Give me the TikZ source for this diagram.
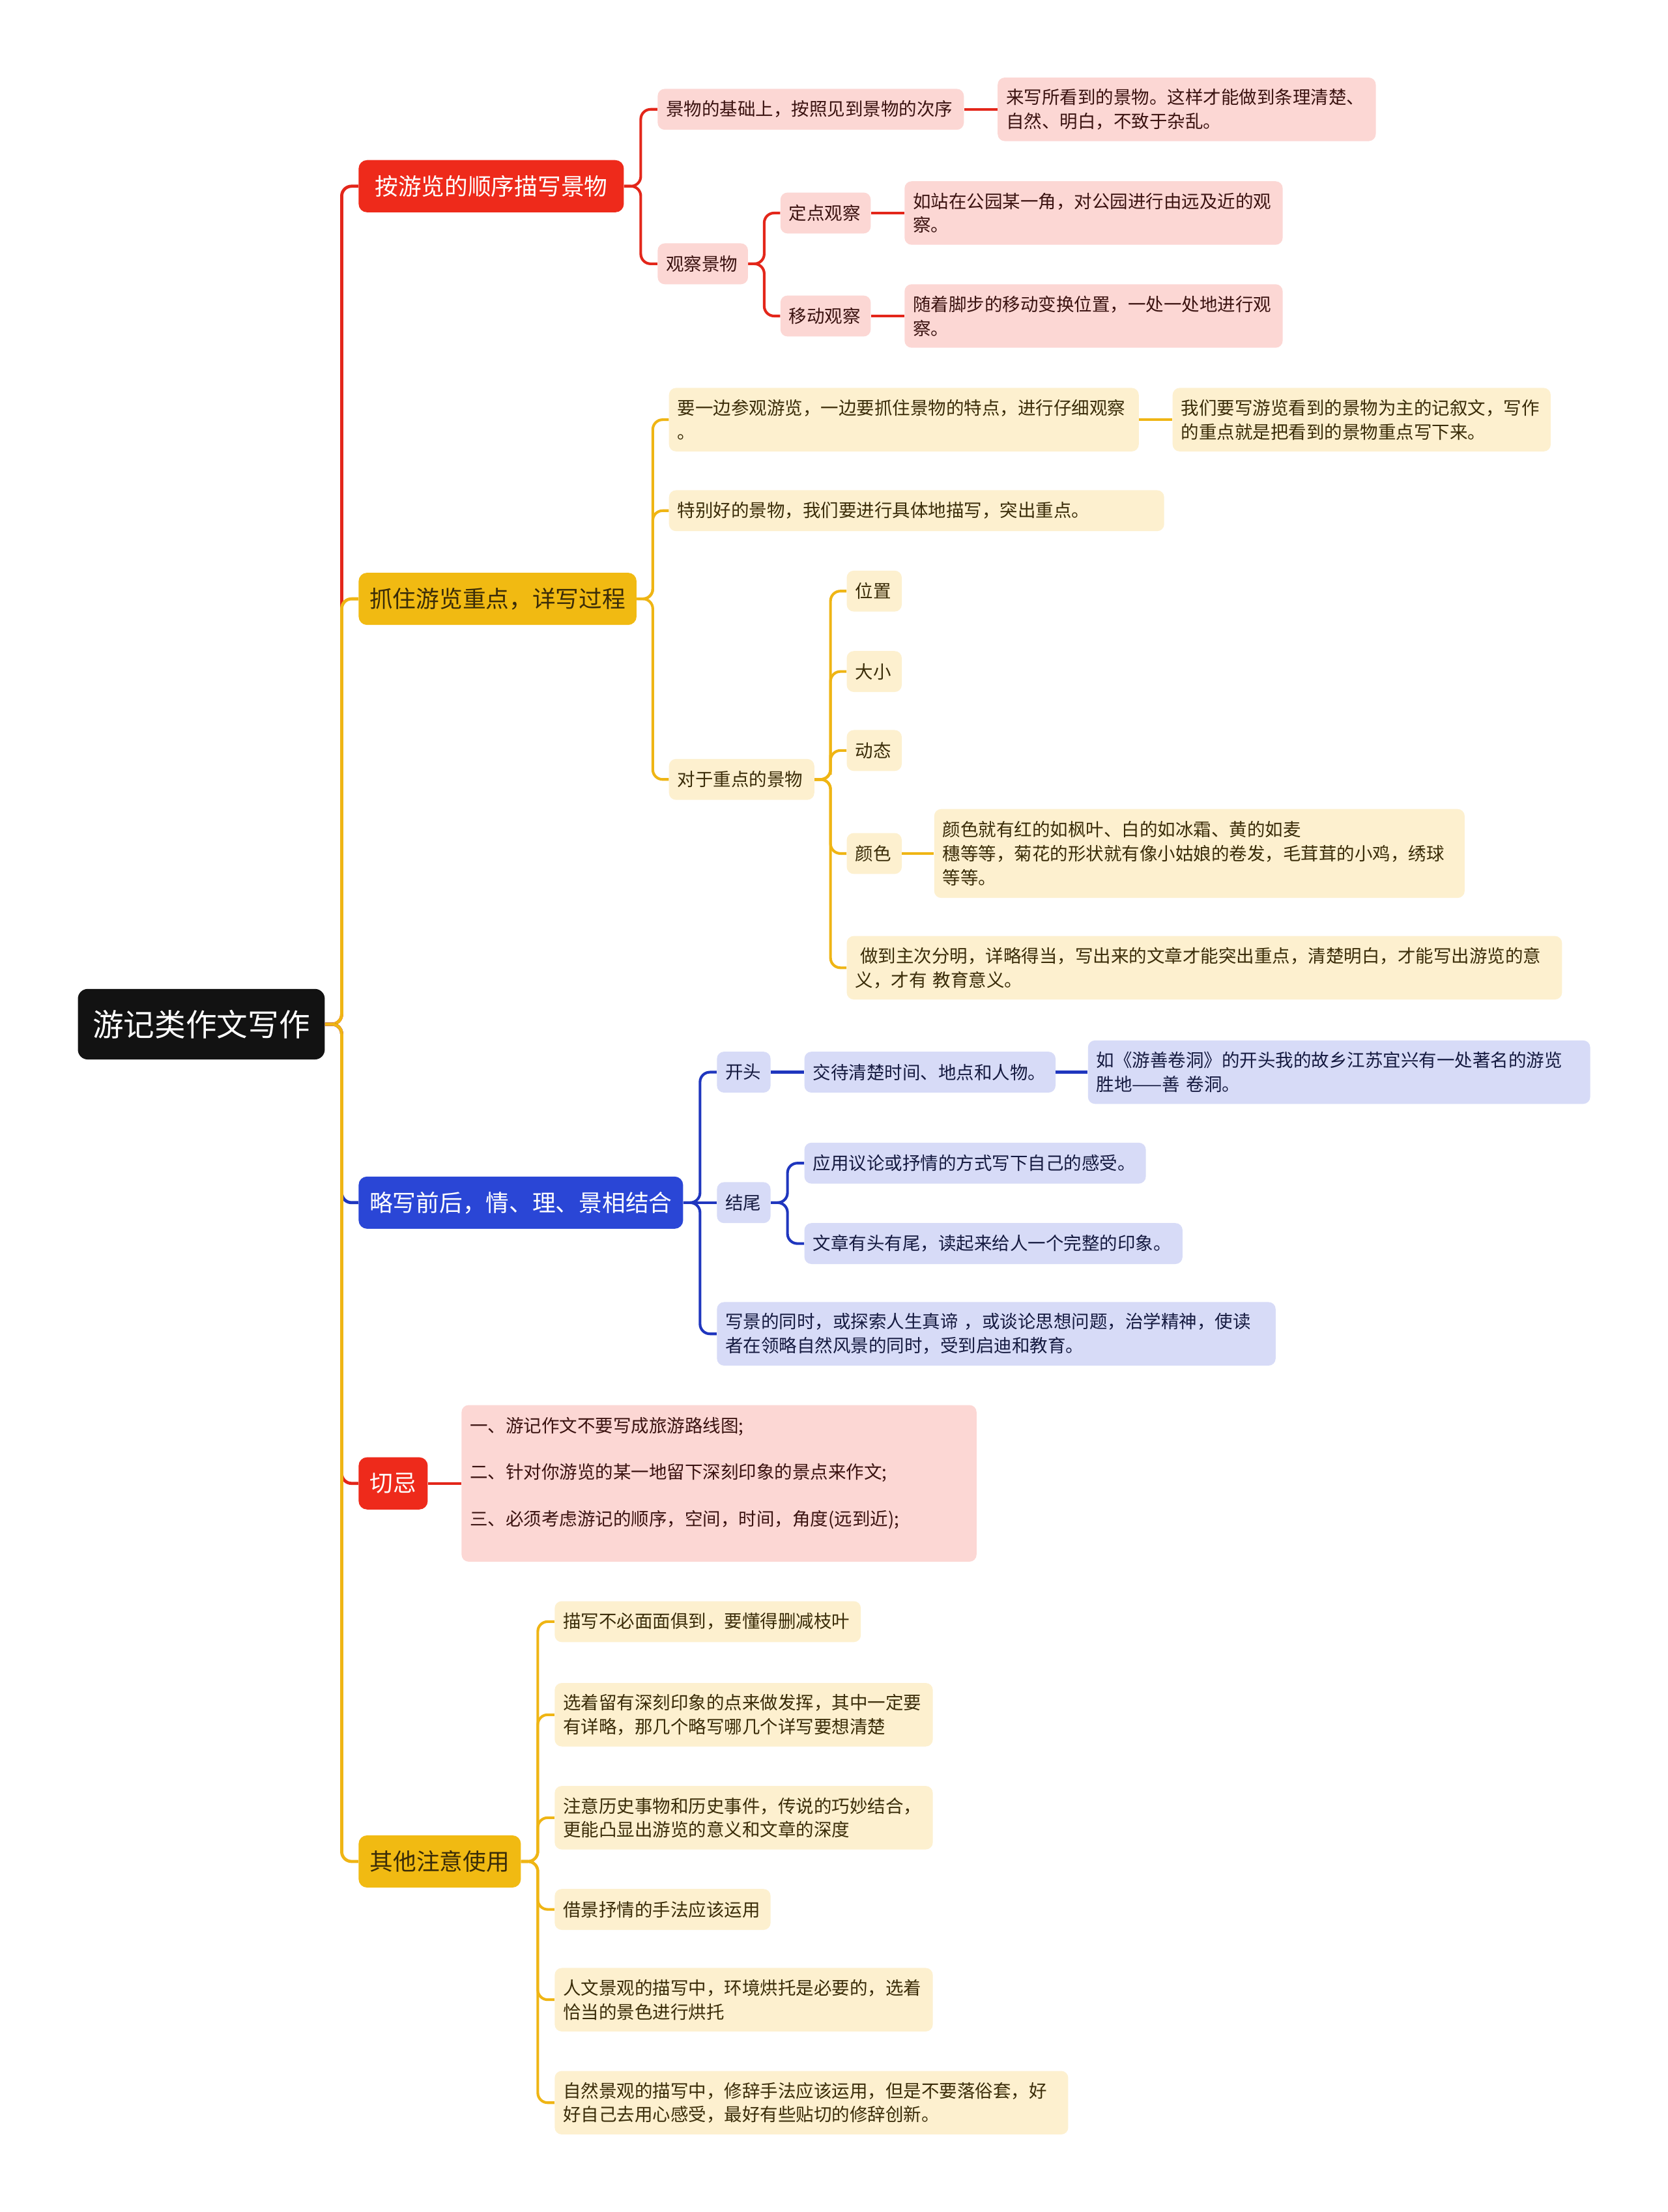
\documentclass[tikz,border=0pt]{standalone}
\usepackage{fontspec}
\setmainfont{Noto Sans CJK SC}
\usetikzlibrary{calc}
\definecolor{redF}{HTML}{EE2A1B}
\definecolor{redL}{HTML}{FCD7D4}
\definecolor{redC}{HTML}{E3261A}
\definecolor{yelF}{HTML}{F1BA12}
\definecolor{yelL}{HTML}{FDF0CF}
\definecolor{yelC}{HTML}{EFB514}
\definecolor{bluF}{HTML}{2A46D6}
\definecolor{bluL}{HTML}{D7DBF7}
\definecolor{bluC}{HTML}{1F36BE}
\definecolor{txR}{HTML}{3A1210}
\definecolor{txY}{HTML}{3A2C08}
\definecolor{txB}{HTML}{151A40}
\newcommand\mmelbow[3]{\draw[#1] (#2.east) -| ($(#2.east)!.5!(#3.west)$) |- (#3.west);}
\newcommand\mmstraight[3]{\draw[#1] (#2.east) -- (#3.west);}
\begin{document}
\begin{tikzpicture}[x=1pt,y=-1pt,
  lf/.style={rounded corners=5pt, inner xsep=6pt, inner ysep=0pt, anchor=west, align=left,
     font=\fontsize{12.7}{17}\selectfont},
  lfR/.style={lf, fill=redL, text=txR},
  lfY/.style={lf, fill=yelL, text=txY},
  lfB/.style={lf, fill=bluL, text=txB},
  wh/.style 2 args={text width=#1, minimum height=#2},
  br/.style={rounded corners=6pt, inner sep=0pt, anchor=west, minimum height=37pt,
     font=\fontsize{16.5}{20}\selectfont},
  brR/.style={br, fill=redF, text=white},
  brY/.style={br, fill=yelF, text=txY},
  brB/.style={br, fill=bluF, text=white},
  cR/.style={draw=redC, line width=1.9pt, rounded corners=7pt},
  cY/.style={draw=yelC, line width=1.9pt, rounded corners=7pt},
  cB/.style={draw=bluC, line width=1.9pt, rounded corners=7pt},
  rootbox/.style={rounded corners=7pt, inner sep=0pt, anchor=west, fill=black!93, text=white,
     minimum width=175pt, minimum height=50pt, font=\fontsize{22}{26}\selectfont}
]
\useasboundingbox[fill=white] (0,0) rectangle (1182,1568);

% root
\node[rootbox] (R) at (55,726) {游记类作文写作};

% branch 1
\node[brR, minimum width=188pt] (B1) at (254,132) {按游览的顺序描写景物};
\node[lfR, wh={205pt}{29pt}] (a1) at (466,77.5) {景物的基础上，按照见到景物的次序};
\node[lfR, wh={256pt}{45pt}] (a1x) at (707,77.5) {来写所看到的景物。这样才能做到条理清楚、\\自然、明白，不致于杂乱。};
\node[lfR, wh={52pt}{29pt}] (a2) at (466,187) {观察景物};
\node[lfR, wh={52pt}{29pt}] (a21) at (553,151) {定点观察};
\node[lfR, wh={256pt}{45pt}] (a21x) at (641,151) {如站在公园某一角，对公园进行由远及近的观\\察。};
\node[lfR, wh={52pt}{29pt}] (a22) at (553,224) {移动观察};
\node[lfR, wh={256pt}{45pt}] (a22x) at (641,224) {随着脚步的移动变换位置，一处一处地进行观\\察。};

% branch 2
\node[brY, minimum width=197pt] (B2) at (254,424.5) {抓住游览重点，详写过程};
\node[lfY, wh={321pt}{45pt}] (b1) at (474,297.5) {要一边参观游览，一边要抓住景物的特点，进行仔细观察\\。};
\node[lfY, wh={256pt}{45pt}] (b1x) at (831,297.5) {我们要写游览看到的景物为主的记叙文，写作\\的重点就是把看到的景物重点写下来。};
\node[lfY, wh={339pt}{29pt}] (b2) at (474,362) {特别好的景物，我们要进行具体地描写，突出重点。};
\node[lfY, wh={91pt}{29pt}] (b3) at (474,552.5) {对于重点的景物};
\node[lfY, wh={27pt}{29pt}] (c1) at (600,419) {位置};
\node[lfY, wh={27pt}{29pt}] (c2) at (600,476) {大小};
\node[lfY, wh={27pt}{29pt}] (c3) at (600,532) {动态};
\node[lfY, wh={27pt}{29pt}] (c4) at (600,605) {颜色};
\node[lfY, wh={364pt}{63pt}] (c4x) at (662,605) {颜色就有红的如枫叶、白的如冰霜、黄的如麦\\穗等等，菊花的形状就有像小姑娘的卷发，毛茸茸的小鸡，绣球\\等等。};
\node[lfY, wh={495pt}{45pt}] (c5) at (600,686) {\hspace*{3.5pt}做到主次分明，详略得当，写出来的文章才能突出重点，清楚明白，才能写出游览的意\\义，才有 教育意义。};

% branch 3
\node[brB, minimum width=230pt] (B3) at (254,852.5) {略写前后，情、理、景相结合};
\node[lfB, wh={26pt}{29pt}] (d1) at (508,760) {开头};
\node[lfB, wh={166pt}{29pt}] (d1x) at (570,760) {交待清楚时间、地点和人物。};
\node[lfB, wh={344pt}{45pt}] (d1xx) at (771,760) {如《游善卷洞》的开头我的故乡江苏宜兴有一处著名的游览\\胜地——善 卷洞。};
\node[lfB, wh={26pt}{29pt}] (d2) at (508,852.5) {结尾};
\node[lfB, wh={230pt}{29pt}] (d21) at (570,824.5) {应用议论或抒情的方式写下自己的感受。};
\node[lfB, wh={256pt}{29pt}] (d22) at (570,881.5) {文章有头有尾，读起来给人一个完整的印象。};
\node[lfB, wh={384pt}{45pt}] (d3) at (508,945.5) {写景的同时，或探索人生真谛 ，或谈论思想问题，治学精神，使读\\者在领略自然风景的同时，受到启迪和教育。};

% branch 4
\node[brR, minimum width=49pt] (B4) at (254,1051.5) {切忌};
\node[lfR, wh={353pt}{111pt}] (e1) at (327,1051.5) {一、游记作文不要写成旅游路线图;\\[16pt]二、针对你游览的某一地留下深刻印象的景点来作文;\\[16pt]三、必须考虑游记的顺序，空间，时间，角度(远到近);\\\mbox{}};

% branch 5
\node[brY, minimum width=115pt] (B5) at (254,1319.5) {其他注意使用};
\node[lfY, wh={205pt}{29pt}] (f1) at (393,1149.5) {描写不必面面俱到，要懂得删减枝叶};
\node[lfY, wh={256pt}{45pt}] (f2) at (393,1215.5) {选着留有深刻印象的点来做发挥，其中一定要\\有详略，那几个略写哪几个详写要想清楚};
\node[lfY, wh={256pt}{45pt}] (f3) at (393,1288.5) {注意历史事物和历史事件，传说的巧妙结合，\\更能凸显出游览的意义和文章的深度};
\node[lfY, wh={141pt}{29pt}] (f4) at (393,1353.5) {借景抒情的手法应该运用};
\node[lfY, wh={256pt}{45pt}] (f5) at (393,1417.5) {人文景观的描写中，环境烘托是必要的，选着\\恰当的景色进行烘托};
\node[lfY, wh={352pt}{45pt}] (f6) at (393,1490.5) {自然景观的描写中，修辞手法应该运用，但是不要落俗套，好\\好自己去用心感受，最好有些贴切的修辞创新。};

% connectors: branch 1
\mmelbow{cR, line width=2.2pt}{R}{B1}
\mmelbow{cR}{B1}{a1}
\mmelbow{cR}{B1}{a2}
\mmstraight{cR}{a1}{a1x}
\mmelbow{cR}{a2}{a21}
\mmelbow{cR}{a2}{a22}
\mmstraight{cR}{a21}{a21x}
\mmstraight{cR}{a22}{a22x}
% branch 2
\mmelbow{cY, line width=2.2pt}{R}{B2}
\mmelbow{cY}{B2}{b1}
\mmelbow{cY}{B2}{b2}
\mmelbow{cY}{B2}{b3}
\mmstraight{cY}{b1}{b1x}
\mmelbow{cY}{b3}{c1}
\mmelbow{cY}{b3}{c2}
\mmelbow{cY}{b3}{c3}
\mmelbow{cY}{b3}{c4}
\mmelbow{cY}{b3}{c5}
\mmstraight{cY}{c4}{c4x}
% branch 3
\mmelbow{cB, line width=2.2pt}{R}{B3}
\mmelbow{cB}{B3}{d1}
\mmstraight{cB}{B3}{d2}
\mmelbow{cB}{B3}{d3}
\mmstraight{cB}{d1}{d1x}
\mmstraight{cB}{d1x}{d1xx}
\mmelbow{cB}{d2}{d21}
\mmelbow{cB}{d2}{d22}
% branch 4
\mmelbow{cR, line width=2.2pt}{R}{B4}
\mmstraight{cR}{B4}{e1}
% branch 5
\mmelbow{cY, line width=2.2pt}{R}{B5}
\mmelbow{cY}{B5}{f1}
\mmelbow{cY}{B5}{f2}
\mmelbow{cY}{B5}{f3}
\mmelbow{cY}{B5}{f4}
\mmelbow{cY}{B5}{f5}
\mmelbow{cY}{B5}{f6}
\end{tikzpicture}
\end{document}
